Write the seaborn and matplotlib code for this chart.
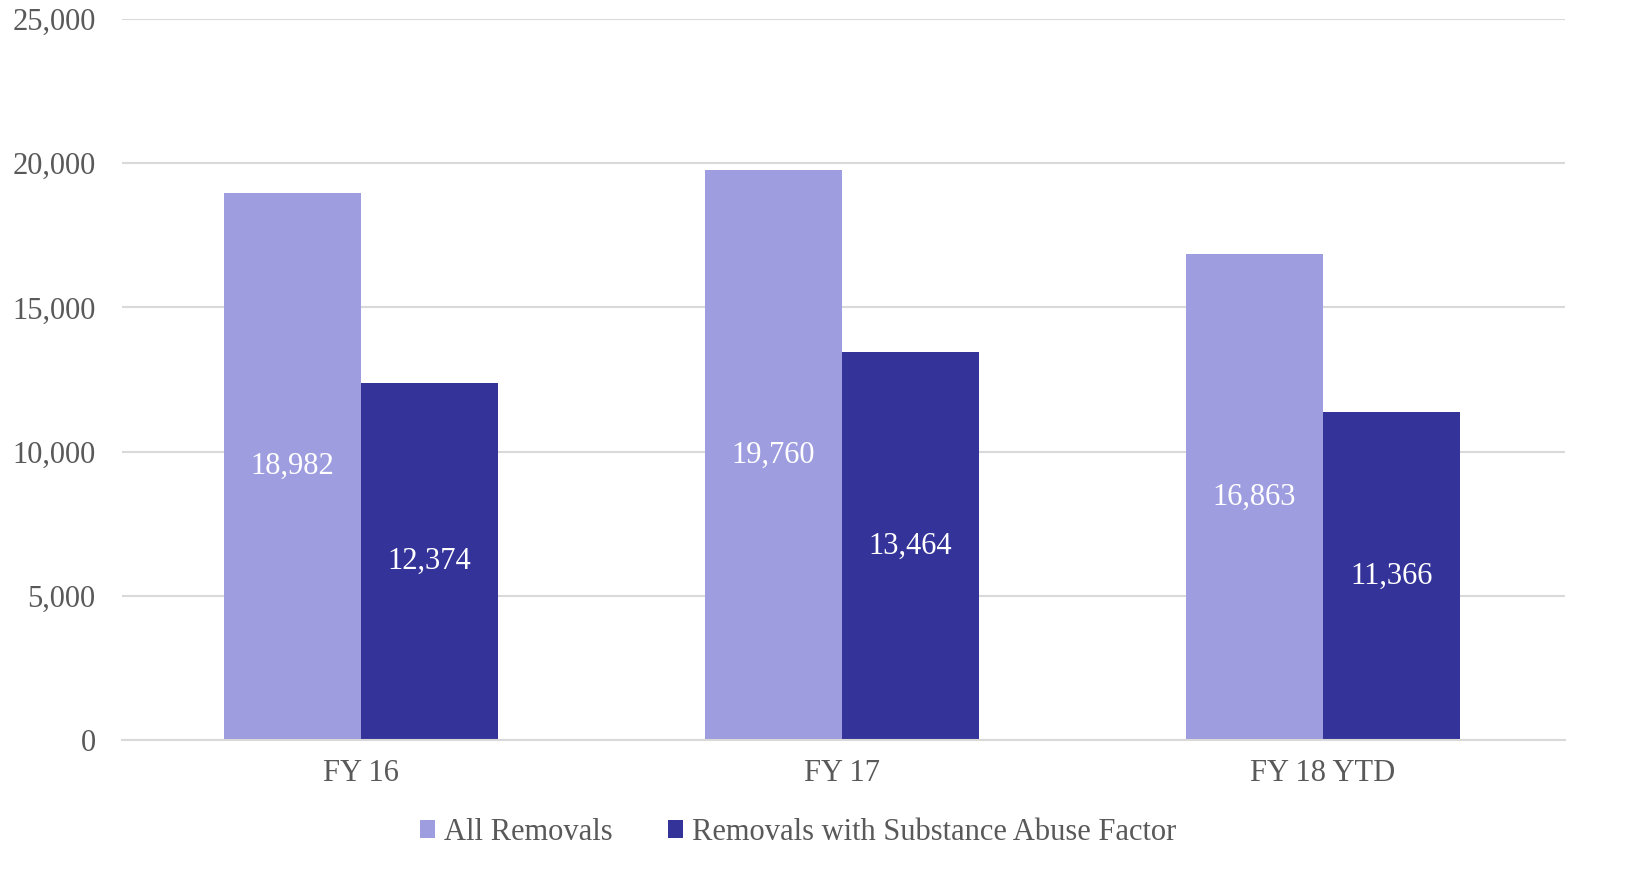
import matplotlib
matplotlib.use("Agg")
import matplotlib.pyplot as plt
import seaborn as sns
import pandas as pd
from matplotlib.ticker import FuncFormatter

categories = ["FY 16", "FY 17", "FY 18 YTD"]
series_names = ["All Removals", "Removals with Substance Abuse Factor"]
all_removals = [18982, 19760, 16863]
substance_removals = [12374, 13464, 11366]
colors = ["#9e9ddf", "#343399"]

df = pd.DataFrame({
    "cat": categories * 2,
    "series": [series_names[0]] * 3 + [series_names[1]] * 3,
    "value": all_removals + substance_removals,
})

sns.set_theme(style="white")
plt.rcParams["font.family"] = ["Liberation Serif", "DejaVu Serif"]

fig = plt.figure(figsize=(16.5, 8.9), dpi=100)
ax = fig.add_axes([122 / 1650, 1 - 740 / 890, (1565 - 122) / 1650, (740 - 19) / 890])

sns.barplot(data=df, x="cat", y="value", hue="series", palette=colors,
            width=0.57, dodge=True, saturation=1, ax=ax, legend=True,
            linewidth=0, edgecolor="none")

FS = 22
for cont in ax.containers:
    for bar in cont:
        h = bar.get_height()
        ax.text(bar.get_x() + bar.get_width() / 2, h / 2, f"{int(round(h)):,}",
                ha="center", va="center", color="white", fontsize=FS)

ax.set_ylim(0, 25000)
ax.set_xlim(-0.497, 2.503)
ax.set_yticks([0, 5000, 10000, 15000, 20000, 25000])
ax.yaxis.set_major_formatter(FuncFormatter(lambda v, p: f"{int(v):,}"))
ax.grid(axis="y", color="#d9d9d9", linewidth=1.5)
ax.set_axisbelow(True)
for s in ["top", "right", "left"]:
    ax.spines[s].set_visible(False)
ax.spines["bottom"].set_color("#d9d9d9")
ax.spines["bottom"].set_linewidth(1.5)
ax.tick_params(axis="both", length=0, labelsize=FS, labelcolor="#595959")
ax.tick_params(axis="y", pad=19)
ax.tick_params(axis="x", pad=14)
ax.set_xlabel("")
ax.set_ylabel("")

handles, labels = ax.get_legend_handles_labels()
ax.legend(handles, labels, loc="center", bbox_to_anchor=(0.4685, -0.128),
          ncol=2, frameon=False, fontsize=FS, handlelength=0.5, handleheight=0.5,
          handletextpad=0.3, columnspacing=1.8, labelcolor="#595959")

fig.savefig("out.png", dpi=100)
